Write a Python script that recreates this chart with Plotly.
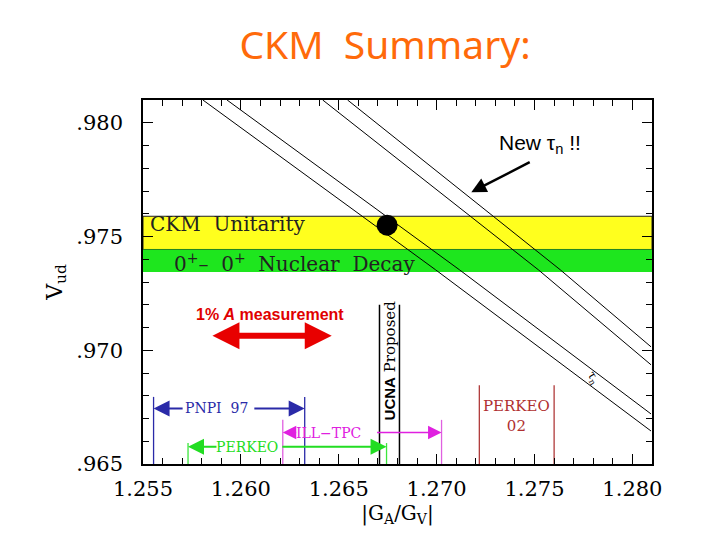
import plotly.graph_objects as go

# ---------------- data ----------------
x_ticks = [1.255, 1.260, 1.265, 1.270, 1.275, 1.280]
x_tick_labels = ["1.255", "1.260", "1.265", "1.270", "1.275", "1.280"]
y_ticks = [0.965, 0.970, 0.975, 0.980]
y_tick_labels = [".965", ".970", ".975", ".980"]
x_range = [1.255, 1.281]
y_range = [0.965, 0.981]

ckm_band = [0.97443, 0.97589]       # CKM unitarity
nuclear_band = [0.97344, 0.97443]   # 0+ -> 0+ nuclear decay

# neutron lifetime constraint lines (old pair and new pair)
tau_old_low_x = [1.25806, 1.26994, 1.28095]
tau_old_low_y = [0.98100, 0.97354, 0.96645]
tau_old_high_x = [1.25929, 1.27116, 1.28095]
tau_old_high_y = [0.98100, 0.97354, 0.96720]
tau_new_low_x = [1.26418, 1.27519, 1.28095]
tau_new_low_y = [0.98100, 0.97354, 0.96936]
tau_new_high_x = [1.26545, 1.27631, 1.28095]
tau_new_high_y = [0.98100, 0.97354, 0.97015]

sm_x = [1.26747]
sm_y = [0.97550]

experiments = ["PNPI 97", "PERKEO", "ILL-TPC", "UCNA", "PERKEO 02"]
exp_low = [1.25554, 1.25730, 1.26214, 1.26708, 1.27218]
exp_high = [1.26326, 1.26744, 1.27025, 1.26810, 1.27600]
exp_top = [0.96795, 0.96592, 0.96694, 0.97200, 0.96846]
exp_colors = ["#2a2aa8", "#3ce63c", "#e060e0", "#000000", "#b03a3a"]

# arrows: (label x, arrow y), (left arrow tail, right arrow tail)
pnpi_label = [1.25873, 0.96744]
pnpi_tails = [1.25710, 1.26061]
perkeo_label = [1.26031, 0.96576]
perkeo_tails = [1.25883, 1.26204]
ill_label = [1.26450, 0.96638]
ill_tails = [1.26290, 1.26688]
perkeo02_label = [1.27407, 0.96710]
ucna_label = [1.26760, 0.96954]

a_meas_arrow = [1.25847, 1.26464, 0.97064]
a_meas_label = [1.26148, 0.97156]
new_tau_label = [1.27529, 0.97905]
new_tau_arrow = [1.27483, 0.97830, 1.27177, 0.97695]
tau_n_label = [1.27799, 0.96879]
ckm_label = [1.25526, 0.97557]
nuclear_label = [1.25648, 0.97385]

SERIF = "DejaVu Serif"
SANS = "Liberation Sans"

# page body has an 8px margin; the figure is sized to compensate
W, H, OFF = 712, 532, 8

fig = go.Figure()

# bands
fig.add_shape(type="rect", xref="x domain", yref="y", x0=0, x1=1,
              y0=ckm_band[0], y1=ckm_band[1], fillcolor="#ffff1e",
              line=dict(color="#222", width=1), layer="below")
fig.add_shape(type="rect", xref="x domain", yref="y", x0=0, x1=1,
              y0=nuclear_band[0], y1=nuclear_band[1], fillcolor="#1ee61e",
              line=dict(width=0), layer="below")

# tau lines
for xs, ys in [(tau_old_low_x, tau_old_low_y), (tau_old_high_x, tau_old_high_y),
               (tau_new_low_x, tau_new_low_y), (tau_new_high_x, tau_new_high_y)]:
    fig.add_trace(go.Scatter(x=xs, y=ys, mode="lines",
                             line=dict(color="black", width=1), hoverinfo="skip"))

# experiment vertical lines
for name, lo, hi, top, col in zip(experiments, exp_low, exp_high, exp_top, exp_colors):
    w = 1.3 if col != "#000000" else 1.5
    for xv in (lo, hi):
        fig.add_trace(go.Scatter(x=[xv, xv], y=[y_range[0], top], mode="lines",
                                 line=dict(color=col, width=w), name=name,
                                 hoverinfo="skip"))

# SM point
fig.add_trace(go.Scatter(x=sm_x, y=sm_y, mode="markers",
                         marker=dict(color="black", size=21), hoverinfo="skip"))

ann = []


def arrow(xh, yh, xt, yt, color, width, size, head=2, side="end"):
    ann.append(dict(x=xh, y=yh, ax=xt, ay=yt, xref="x", yref="y", axref="x", ayref="y",
                    text="", showarrow=True, arrowhead=head, arrowsize=size,
                    arrowwidth=width, arrowcolor=color, arrowside=side, standoff=0,
                    startstandoff=0))


def label(x, y, text, color, size, family=SERIF, angle=0, xanchor="center"):
    ann.append(dict(x=x, y=y, xref="x", yref="y", text=text, showarrow=False,
                    font=dict(color=color, size=size, family=family),
                    textangle=angle, xanchor=xanchor, yanchor="middle"))


# PNPI 97
arrow(exp_low[0], pnpi_label[1], pnpi_tails[0], pnpi_label[1], exp_colors[0], 2, 1.6)
arrow(exp_high[0], pnpi_label[1], pnpi_tails[1], pnpi_label[1], exp_colors[0], 2, 1.6)
label(pnpi_label[0], pnpi_label[1], "PNPI  97", exp_colors[0], 14)
# PERKEO
arrow(exp_low[1], perkeo_label[1], perkeo_tails[0], perkeo_label[1], "#22dd22", 2, 1.6)
arrow(exp_high[1], perkeo_label[1], perkeo_tails[1], perkeo_label[1], "#22dd22", 2, 1.6)
label(perkeo_label[0], perkeo_label[1], "PERKEO", "#22dd22", 14)
# ILL-TPC
arrow(exp_low[2], ill_label[1], ill_tails[0], ill_label[1], "#e020e0", 1.5, 1.8)
arrow(exp_high[2], ill_label[1], ill_tails[1], ill_label[1], "#e020e0", 1.5, 1.8)
label(ill_label[0], ill_label[1], "ILL−TPC", "#e020e0", 14)
# PERKEO 02
label(perkeo02_label[0], perkeo02_label[1], "PERKEO<br>02", "#b03030", 15)
# UCNA proposed
label(ucna_label[0], ucna_label[1],
      '<span style="font-family:Liberation Sans;font-weight:bold">UCNA</span> Proposed',
      "black", 15, angle=-90)

# 1% A measurement
arrow(a_meas_arrow[1], a_meas_arrow[2], a_meas_arrow[0], a_meas_arrow[2], "#e80000",
      6, 0.9, head=2, side="end+start")
label(a_meas_label[0], a_meas_label[1], "<b>1% <i>A</i> measurement</b>", "#e00000", 16,
      family=SANS)

# New tau_n
label(new_tau_label[0], new_tau_label[1], "New τ<sub>n</sub> !!", "black", 21, family=SANS)
arrow(new_tau_arrow[2], new_tau_arrow[3], new_tau_arrow[0], new_tau_arrow[1], "black",
      2.5, 1.2)
label(tau_n_label[0], tau_n_label[1], "τ<sub>n</sub>", "black", 12, angle=60)

# band labels
label(ckm_label[0], ckm_label[1], "CKM  Unitarity", "#222", 20, xanchor="left")
label(nuclear_label[0], nuclear_label[1],
      "0<sup>+</sup>–  0<sup>+</sup>  Nuclear  Decay", "#222", 20, xanchor="left")

fig.update_layout(
    width=W, height=H,
    margin=dict(l=143 - OFF, r=720 - 652, t=100 - OFF, b=540 - 464),
    paper_bgcolor="white", plot_bgcolor="white",
    showlegend=False,
    annotations=ann,
    title=dict(text="CKM\u00a0\u00a0Summary:", x=(385 - OFF) / W, xanchor="center",
               y=1 - (45 - OFF) / H, yanchor="middle", xref="container", yref="container",
               font=dict(family="Noto Sans", size=39, color="#ff6a0a")),
    font=dict(family=SERIF, color="black"),
)

fig.update_xaxes(range=x_range, tickvals=x_ticks, ticktext=x_tick_labels,
                 ticks="inside", ticklen=10, tickwidth=1.2, tickcolor="black",
                 minor=dict(dtick=0.001, ticks="inside", ticklen=6, tickcolor="black"),
                 showline=True, linecolor="black", linewidth=1.5, mirror="ticks",
                 showgrid=False, zeroline=False, tickfont=dict(size=21, family=SERIF),
                 ticklabelstandoff=5,
                 title=dict(text="|G<sub>A</sub>/G<sub>V</sub>|",
                            font=dict(size=20, family=SERIF), standoff=6))
fig.update_yaxes(range=y_range, tickvals=y_ticks, ticktext=y_tick_labels,
                 ticks="inside", ticklen=10, tickwidth=1.2, tickcolor="black",
                 minor=dict(dtick=0.001, ticks="inside", ticklen=6, tickcolor="black"),
                 showline=True, linecolor="black", linewidth=1.5, mirror="ticks",
                 showgrid=False, zeroline=False, tickfont=dict(size=21, family=SERIF),
                 ticklabelstandoff=14,
                 title=dict(text="V<sub>ud</sub>", font=dict(size=22, family=SERIF),
                            standoff=8))

fig.write_html("out.html")
